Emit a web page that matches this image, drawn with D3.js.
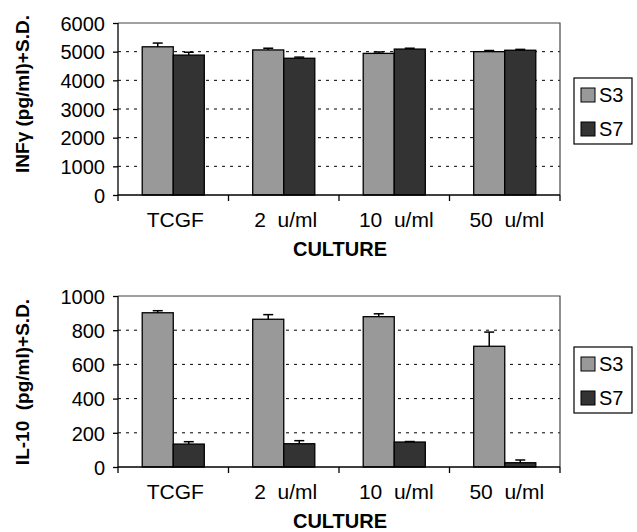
<!DOCTYPE html>
<html>
<head>
<meta charset="utf-8">
<script src="https://cdn.jsdelivr.net/npm/d3@7"></script>
<style>
  body { margin: 0; background: #fff; }
  svg { display: block; }
  text { font-family: "Liberation Sans", Arial, sans-serif; fill: #000; }
</style>
</head>
<body>
<svg id="chart" width="637" height="532"></svg>
<script>
// categories and series
var cultures = ["TCGF", "2  u/ml", "10  u/ml", "50  u/ml"];
var seriesNames = ["S3", "S7"];
var seriesColors = ["#999999", "#333333"];

// INF-gamma values (pg/ml) and S.D.
var infS3 = [5170, 5060, 4940, 5000];
var infS3sd = [130, 60, 50, 40];
var infS7 = [4880, 4770, 5090, 5050];
var infS7sd = [100, 40, 30, 30];
var infTicks = [0, 1000, 2000, 3000, 4000, 5000, 6000];

// IL-10 values (pg/ml) and S.D.
var ilS3 = [902, 864, 879, 706];
var ilS3sd = [12, 27, 17, 83];
var ilS7 = [134, 136, 146, 25];
var ilS7sd = [14, 18, 3, 16];
var ilTicks = [0, 200, 400, 600, 800, 1000];

var svg = d3.select("#chart");

function drawPanel(opt) {
    var left = 118, right = 560;
    var top = opt.top, bottom = opt.bottom;
    var g = svg.append("g");

    var x0 = d3.scaleBand().domain(cultures).range([left, right]);
    var x1 = d3.scaleBand().domain(seriesNames).range([0, x0.bandwidth()]).paddingOuter(0.78);
    var y = d3.scaleLinear().domain([0, opt.max]).range([bottom, top]);

    // gridlines (dashed)
    g.selectAll(".grid").data(opt.ticks.filter(t => t > 0 && t < opt.max))
        .enter().append("line")
        .attr("x1", left).attr("x2", right)
        .attr("y1", d => y(d)).attr("y2", d => y(d))
        .attr("stroke", "#000").attr("stroke-width", 1)
        .attr("stroke-dasharray", "3,5");

    // frame top / right
    g.append("path")
        .attr("d", "M" + left + "," + top + "H" + right + "V" + bottom)
        .attr("fill", "none").attr("stroke", "#444").attr("stroke-width", 1.2);

    // bars
    var rows = cultures.map(function(c, i) {
        return [
            {cat: c, s: "S3", v: opt.s3[i], sd: opt.s3sd[i], col: seriesColors[0]},
            {cat: c, s: "S7", v: opt.s7[i], sd: opt.s7sd[i], col: seriesColors[1]}
        ];
    });
    var flat = [].concat.apply([], rows);

    g.selectAll(".bar").data(flat).enter().append("rect")
        .attr("x", d => x0(d.cat) + x1(d.s))
        .attr("y", d => y(d.v))
        .attr("width", x1.bandwidth())
        .attr("height", d => bottom - y(d.v))
        .attr("fill", d => d.col)
        .attr("stroke", "#000").attr("stroke-width", 1.3);

    // error bars
    var eb = g.selectAll(".err").data(flat).enter().append("g");
    eb.append("line")
        .attr("x1", d => x0(d.cat) + x1(d.s) + x1.bandwidth() / 2)
        .attr("x2", d => x0(d.cat) + x1(d.s) + x1.bandwidth() / 2)
        .attr("y1", d => y(d.v))
        .attr("y2", d => y(d.v + d.sd))
        .attr("stroke", "#000").attr("stroke-width", 1.5);
    eb.append("line")
        .attr("x1", d => x0(d.cat) + x1(d.s) + x1.bandwidth() / 2 - 5)
        .attr("x2", d => x0(d.cat) + x1(d.s) + x1.bandwidth() / 2 + 5)
        .attr("y1", d => y(d.v + d.sd))
        .attr("y2", d => y(d.v + d.sd))
        .attr("stroke", "#000").attr("stroke-width", 1.5);

    // y axis
    var yAxis = d3.axisLeft(y).tickValues(opt.ticks).tickSize(5).tickPadding(8).tickFormat(d3.format("d"));
    var ya = g.append("g").attr("transform", "translate(" + left + ",0)").call(yAxis);
    ya.select(".domain").attr("stroke", "#000").attr("stroke-width", 1.3).attr("d", "M0," + top + "V" + bottom);
    ya.selectAll(".tick line").attr("stroke", "#000").attr("stroke-width", 1.3);
    ya.selectAll(".tick text").style("font-size", "20px").attr("fill", "#000").attr("dy", "0.36em");

    // x axis: ticks at category boundaries
    g.append("line").attr("x1", left).attr("x2", right)
        .attr("y1", bottom).attr("y2", bottom)
        .attr("stroke", "#000").attr("stroke-width", 1.3);
    var bounds = cultures.map(c => x0(c)).concat([right]);
    g.selectAll(".xt").data(bounds).enter().append("line")
        .attr("x1", d => d).attr("x2", d => d)
        .attr("y1", bottom).attr("y2", bottom + 6)
        .attr("stroke", "#000").attr("stroke-width", 1.3);
    g.selectAll(".xl").data(cultures).enter().append("text")
        .attr("x", d => x0(d) + x0.bandwidth() / 2 + 2)
        .attr("y", bottom + 32)
        .attr("text-anchor", "middle")
        .style("font-size", "21px")
        .attr("xml:space", "preserve")
        .text(d => d);

    g.append("text")
        .attr("x", 340).attr("y", bottom + 61)
        .attr("text-anchor", "middle")
        .style("font-size", "20px").style("font-weight", "bold")
        .text("CULTURE");

    // y title
    g.append("text")
        .attr("transform", "translate(29," + opt.titleY + ") rotate(-90)")
        .attr("text-anchor", "middle")
        .style("font-size", "19px").style("font-weight", "bold")
        .attr("xml:space", "preserve")
        .text(opt.title);

    // legend
    var lg = g.append("g").attr("transform", "translate(574," + opt.legendTop + ")");
    lg.append("rect").attr("width", 58).attr("height", 66)
        .attr("fill", "#fff").attr("stroke", "#000").attr("stroke-width", 1.2);
    seriesNames.forEach(function(s, i) {
        lg.append("rect").attr("x", 7).attr("y", 10 + i * 34).attr("width", 14).attr("height", 14)
            .attr("fill", seriesColors[i]).attr("stroke", "#000").attr("stroke-width", 1);
        lg.append("text").attr("x", 25).attr("y", 24 + i * 34)
            .style("font-size", "20px").text(s);
    });
}

drawPanel({top: 23, bottom: 195, max: 6000, ticks: infTicks,
    s3: infS3, s3sd: infS3sd, s7: infS7, s7sd: infS7sd,
    title: "INF\u03b3 (pg/ml)+S.D.", titleY: 94, legendTop: 78});

drawPanel({top: 296, bottom: 467, max: 1000, ticks: ilTicks,
    s3: ilS3, s3sd: ilS3sd, s7: ilS7, s7sd: ilS7sd,
    title: "IL-10  (pg/ml)+S.D.", titleY: 382, legendTop: 347});
</script>
</body>
</html>
